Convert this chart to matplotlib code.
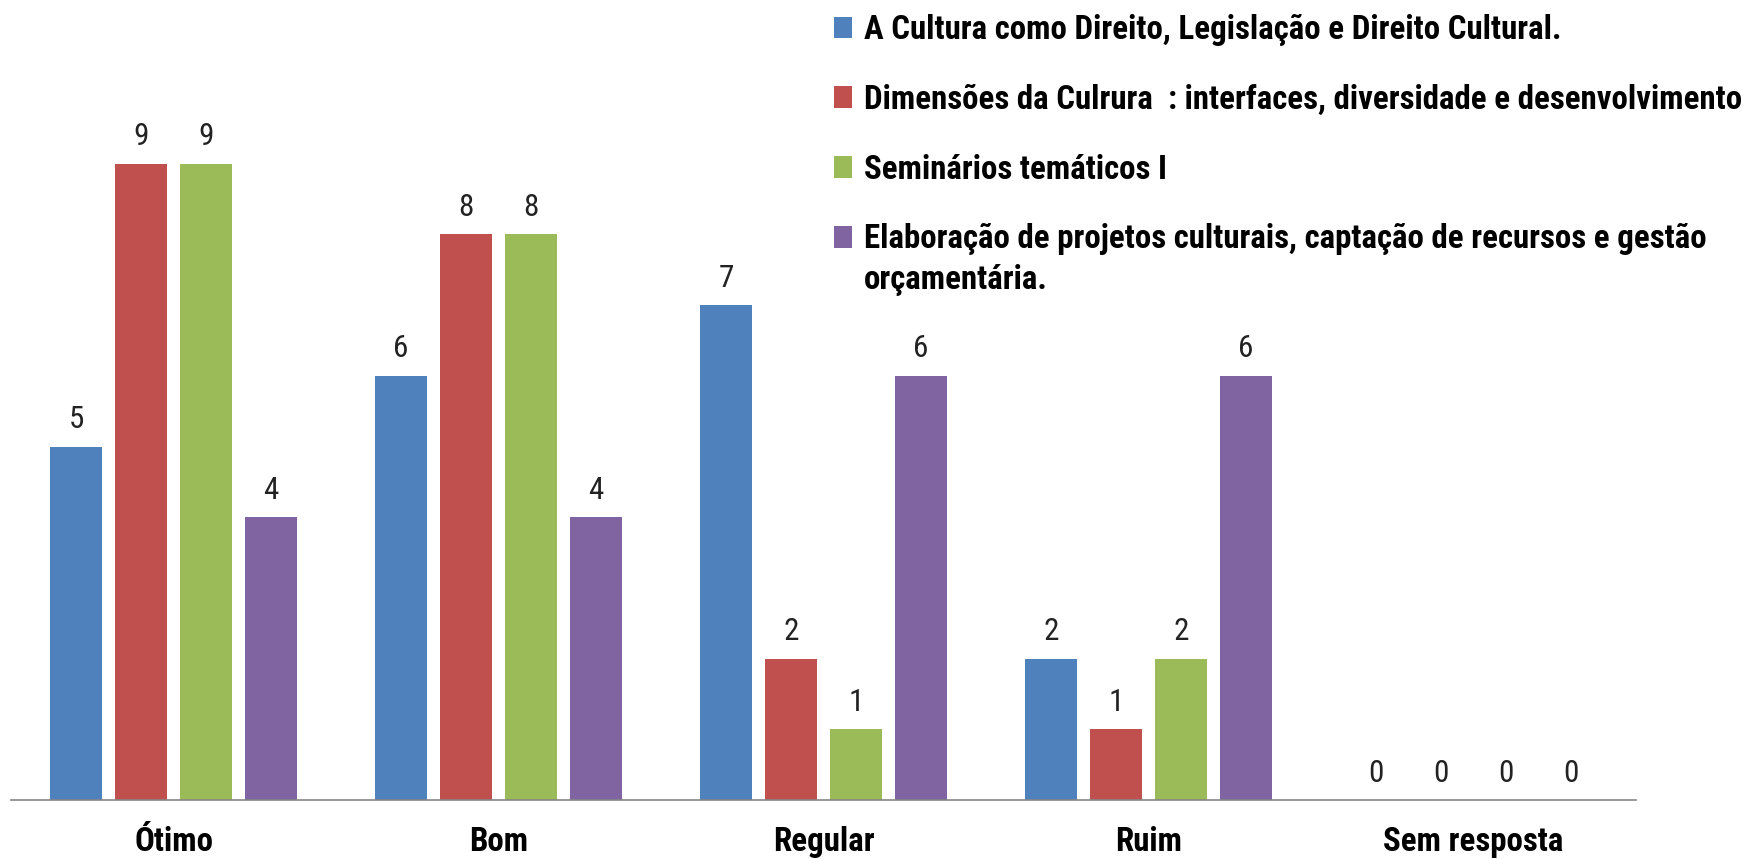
import numpy as np
import matplotlib
matplotlib.use("Agg")
import matplotlib.pyplot as plt
from matplotlib import font_manager
from matplotlib.patches import Patch

categories = ["Ótimo", "Bom", "Regular", "Ruim", "Sem resposta"]
series_names = [
    "A Cultura como Direito, Legislação e Direito Cultural.",
    "Dimensões da Culrura  : interfaces, diversidade e desenvolvimento",
    "Seminários temáticos I",
    "Elaboração de projetos culturais, captação de recursos e gestão",
]
last_name_tail = "orçamentária."
direito = [5, 6, 7, 2, 0]
dimensoes = [9, 8, 2, 1, 0]
seminarios = [9, 8, 1, 2, 0]
elaboracao = [4, 4, 6, 6, 0]

colors = ["#4F81BD", "#C0504D", "#9BBB59", "#8064A2"]

installed = {f.name for f in font_manager.fontManager.ttflist}
main = next(f for f in ["Liberation Sans Narrow", "Roboto Condensed", "Open Sans Condensed",
                        "Lato", "Roboto", "DejaVu Sans"] if f in installed)
font = [main, "DejaVu Sans"]

fig = plt.figure(figsize=(17.42, 8.59), dpi=100)
W, H = 1742, 859
ax = fig.add_axes([11 / W, 1 - 800 / H, (1636 - 11) / W, (800 - 93) / H])

# pick legend size so the longest line is ~874 px wide, like the reference
r = fig.canvas.get_renderer()
probe = fig.text(0, 0, series_names[1], fontsize=20, fontweight="bold", family=font)
w = probe.get_window_extent(r).width
probe.remove()
lsize = 20 * 874 / w

x = np.arange(len(categories))
width = 0.16
step = 0.2
handles = []
for i, vals in enumerate([direito, dimensoes, seminarios, elaboracao]):
    bars = ax.bar(x + (i - 1.5) * step, vals, width, color=colors[i])
    ax.bar_label(bars, padding=9, fontsize=lsize * 0.95, family=font, color="#222222")
    handles.append(Patch(facecolor=colors[i], edgecolor="none"))

ax.set_xlim(-0.5, len(categories) - 0.5)
ax.set_ylim(0, 10)
ax.set_xticks(x)
ax.set_xticklabels(categories, fontsize=lsize, fontweight="bold", family=font)
ax.tick_params(axis="x", length=0, pad=19)
ax.set_yticks([])
for s in ["top", "right", "left"]:
    ax.spines[s].set_visible(False)
ax.spines["bottom"].set_color("#868686")
ax.spines["bottom"].set_linewidth(1.2)

leg = fig.legend(handles, series_names, loc="upper left",
                 bbox_to_anchor=(834 / W, 1 - 14 / H), frameon=False,
                 prop={"family": font, "size": lsize, "weight": "bold"},
                 handlelength=0.55, handleheight=0.65, handletextpad=0.35,
                 labelspacing=1.15, borderaxespad=0, borderpad=0)

# wrapped second line of the last entry, under its first line
fig.canvas.draw()
bb = leg.get_texts()[-1].get_window_extent(fig.canvas.get_renderer())
fig.text(bb.x0 / W, (bb.y0 - 41) / H, last_name_tail, fontsize=lsize,
         fontweight="bold", family=font, va="bottom", ha="left")

fig.savefig("out.png", dpi=100, facecolor="white")
